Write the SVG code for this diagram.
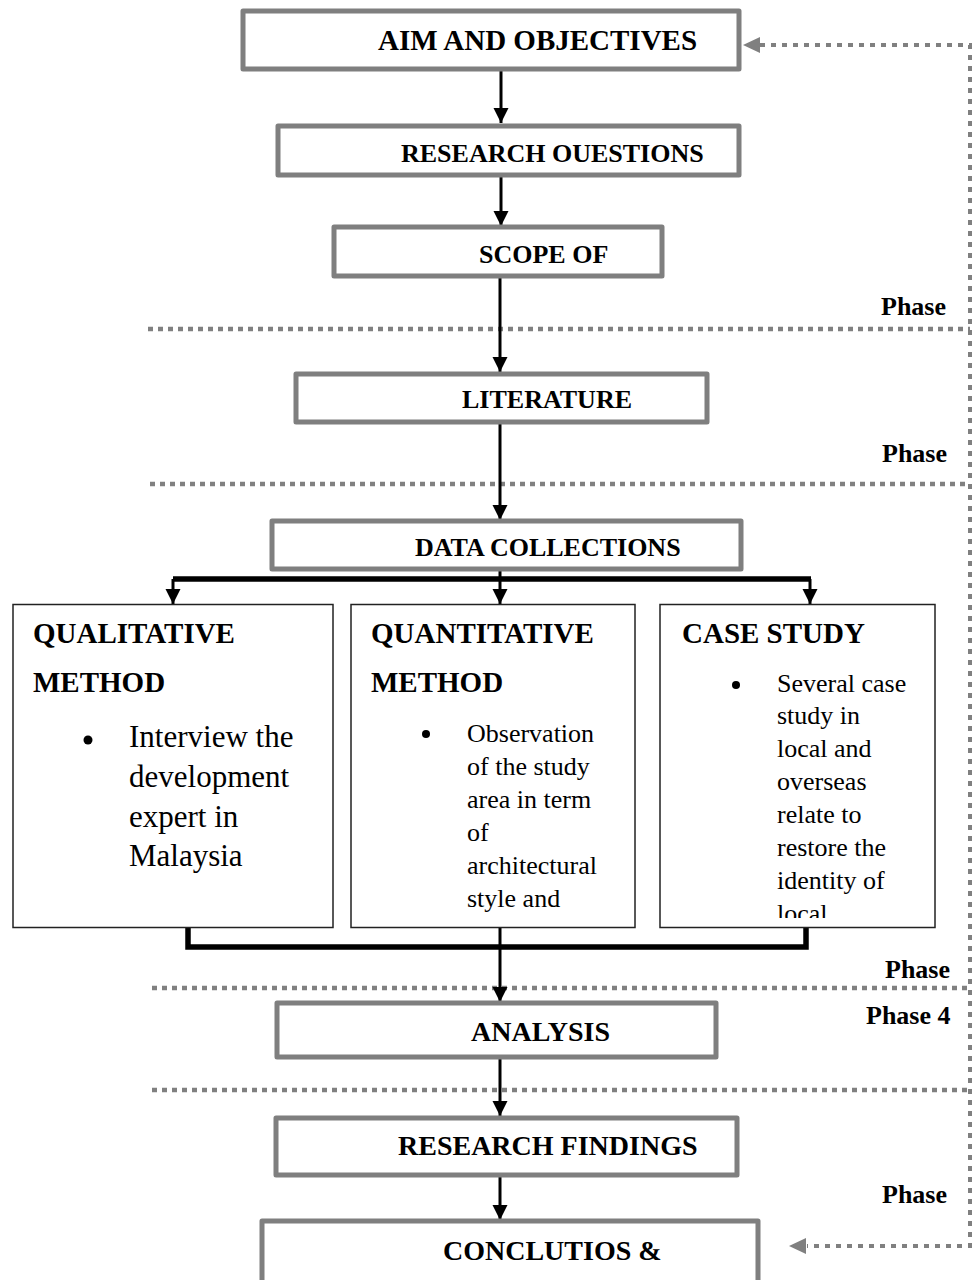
<svg xmlns="http://www.w3.org/2000/svg" width="974" height="1280" viewBox="0 0 974 1280">
<style>
.tb{fill:#fff;stroke:#7f7f7f;stroke-width:5;stroke-linejoin:round}
.bx{fill:#fff;stroke:#222;stroke-width:1.5}
.t{font-family:"Liberation Serif","Times New Roman",serif;fill:#000}
.b{font-weight:bold}
.ph{font-family:"Liberation Serif","Times New Roman",serif;font-weight:bold;font-size:26px;fill:#000}
.dl{fill:none;stroke:#808080;stroke-width:4.5;stroke-dasharray:5 5}
.fb{fill:none;stroke:#808080;stroke-width:4;stroke-dasharray:5 6}
.cn{fill:none;stroke:#000;stroke-width:3}
.th{fill:none;stroke:#000;stroke-width:5.5}
</style>
<defs>
<marker id="ah" markerUnits="userSpaceOnUse" markerWidth="16" markerHeight="18" refX="15" refY="7.5" orient="auto" viewBox="0 0 16 15">
<path d="M0,0 L15,7.5 L0,15 Z" fill="#000"/>
</marker>
<clipPath id="c3"><rect x="660" y="604" width="276" height="314"/></clipPath>
<clipPath id="c2"><rect x="351" y="604" width="284" height="314"/></clipPath>
</defs>

<g id="phase-lines">
<line class="dl" x1="148" y1="329" x2="970" y2="329"/>
<line class="dl" x1="150" y1="484" x2="970" y2="484"/>
<line class="dl" x1="152" y1="988" x2="970" y2="988"/>
<line class="dl" x1="152" y1="1090" x2="970" y2="1090"/>
<text class="ph" x="881" y="315">Phase</text>
<text class="ph" x="882" y="462">Phase</text>
<text class="ph" x="885" y="978">Phase</text>
<text class="ph" x="866" y="1024">Phase 4</text>
<text class="ph" x="882" y="1203">Phase</text>
</g>

<g id="connectors">
<line class="cn" x1="501" y1="71" x2="501" y2="123" marker-end="url(#ah)"/>
<line class="cn" x1="501" y1="176" x2="501" y2="226" marker-end="url(#ah)"/>
<line class="cn" x1="500" y1="277" x2="500" y2="372" marker-end="url(#ah)"/>
<line class="cn" x1="500" y1="423" x2="500" y2="520" marker-end="url(#ah)"/>
<line class="th" x1="173" y1="579" x2="811" y2="579"/>
<line class="cn" x1="173" y1="579" x2="173" y2="604" marker-end="url(#ah)"/>
<line class="cn" x1="500" y1="570" x2="500" y2="604" marker-end="url(#ah)"/>
<line class="cn" x1="810" y1="579" x2="810" y2="604" marker-end="url(#ah)"/>
<path class="th" d="M188,928 V947 H806 V928"/>
<line class="cn" x1="500" y1="928" x2="500" y2="1002" marker-end="url(#ah)"/>
<line class="cn" x1="500" y1="1058" x2="500" y2="1116" marker-end="url(#ah)"/>
<line class="cn" x1="500" y1="1177" x2="500" y2="1220" marker-end="url(#ah)"/>
<path class="fb" d="M760,45 H970 V1246 H807"/>
<polygon points="743,45 760,37 760,53" fill="#808080"/>
<polygon points="789,1246 806,1238 806,1254" fill="#808080"/>
</g>

<g id="aim">
<rect class="tb" x="243" y="11" width="496" height="58"/>
<text class="t b" x="378" y="50" font-size="29">AIM AND OBJECTIVES</text>
</g>
<g id="research-questions">
<rect class="tb" x="278" y="126" width="461" height="49"/>
<text class="t b" x="401" y="162" font-size="26">RESEARCH OUESTIONS</text>
</g>
<g id="scope">
<rect class="tb" x="334" y="227" width="328" height="49"/>
<text class="t b" x="479" y="263" font-size="26">SCOPE OF</text>
</g>
<g id="literature">
<rect class="tb" x="296" y="374" width="411" height="48"/>
<text class="t b" x="462" y="408" font-size="26">LITERATURE</text>
</g>
<g id="data-collections">
<rect class="tb" x="272" y="521" width="469" height="48"/>
<text class="t b" x="415" y="556" font-size="26">DATA COLLECTIONS</text>
</g>

<g id="qualitative">
<rect class="bx" x="13" y="604.5" width="320" height="323"/>
<text class="t b" x="33" y="643" font-size="29">QUALITATIVE</text>
<text class="t b" x="33" y="692" font-size="29">METHOD</text>
<circle cx="88" cy="740" r="4.5" fill="#000"/>
<text class="t" font-size="31"><tspan x="129" y="747">Interview the</tspan><tspan x="129" y="787">development</tspan><tspan x="129" y="827">expert in</tspan><tspan x="129" y="866">Malaysia</tspan></text>
</g>

<g id="quantitative">
<rect class="bx" x="351" y="604.5" width="284" height="323"/>
<text class="t b" x="371" y="643" font-size="29">QUANTITATIVE</text>
<text class="t b" x="371" y="692" font-size="29">METHOD</text>
<circle cx="426" cy="734" r="4" fill="#000"/>
<text class="t" font-size="26" clip-path="url(#c2)"><tspan x="467" y="742">Observation</tspan><tspan x="467" y="775">of the study</tspan><tspan x="467" y="808">area in term</tspan><tspan x="467" y="841">of</tspan><tspan x="467" y="874">architectural</tspan><tspan x="467" y="907">style and</tspan></text>
</g>

<g id="case-study">
<rect class="bx" x="660" y="604.5" width="275" height="323"/>
<text class="t b" x="682" y="643" font-size="29">CASE STUDY</text>
<circle cx="736" cy="685" r="4" fill="#000"/>
<text class="t" font-size="26" clip-path="url(#c3)"><tspan x="777" y="692">Several case</tspan><tspan x="777" y="724">study in</tspan><tspan x="777" y="757">local and</tspan><tspan x="777" y="790">overseas</tspan><tspan x="777" y="823">relate to</tspan><tspan x="777" y="856">restore the</tspan><tspan x="777" y="889">identity of</tspan><tspan x="777" y="922">local</tspan></text>
</g>

<g id="analysis">
<rect class="tb" x="277" y="1003" width="439" height="54"/>
<text class="t b" x="471" y="1041" font-size="28">ANALYSIS</text>
</g>
<g id="research-findings">
<rect class="tb" x="276" y="1118" width="461" height="57"/>
<text class="t b" x="398" y="1155" font-size="28">RESEARCH FINDINGS</text>
</g>
<g id="conclusions">
<rect class="tb" x="262" y="1221" width="496" height="70"/>
<text class="t b" x="443" y="1260" font-size="28">CONCLUTIOS &amp;</text>
</g>
</svg>
